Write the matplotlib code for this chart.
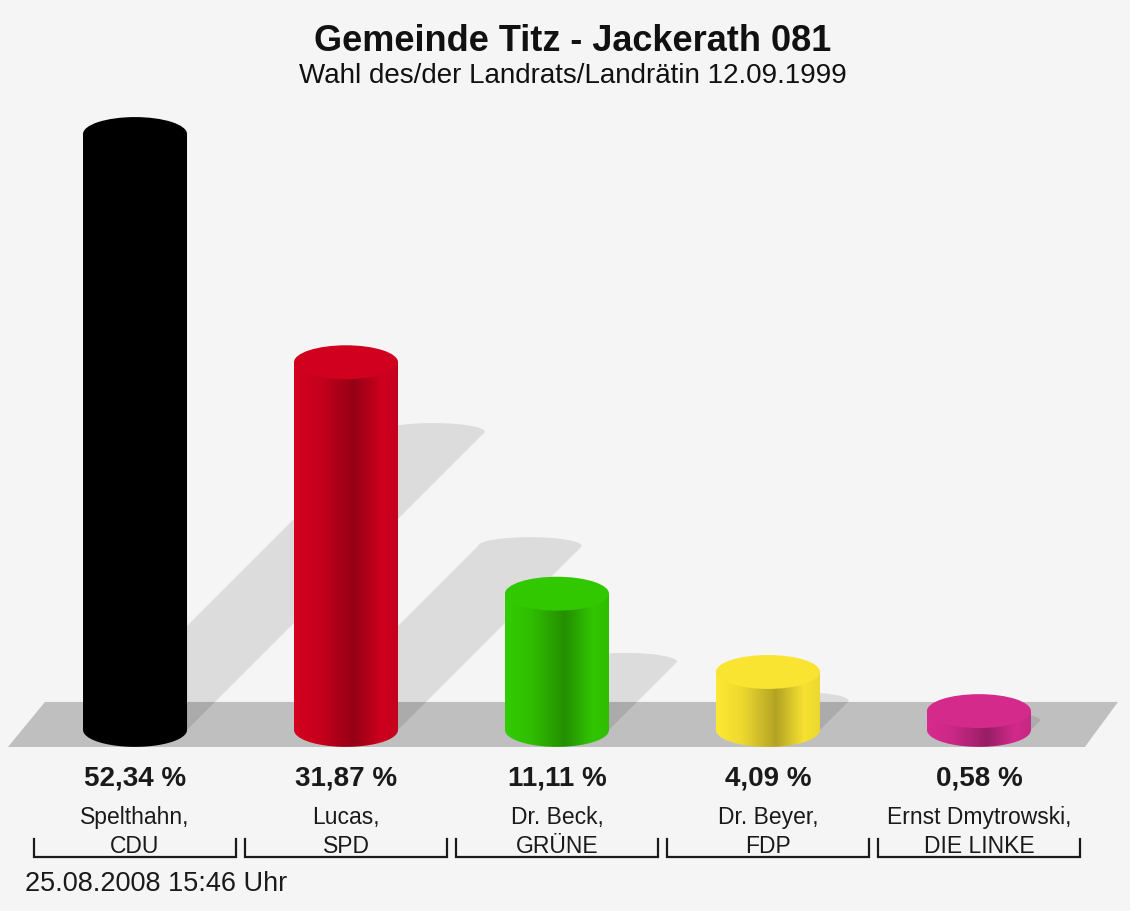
import numpy as np
import matplotlib
matplotlib.use("Agg")
import matplotlib.pyplot as plt
from matplotlib.patches import Ellipse, PathPatch, Polygon
from matplotlib.path import Path
from matplotlib.colors import to_rgb

# --- data ---
title = "Gemeinde Titz - Jackerath 081"
subtitle = "Wahl des/der Landrats/Landrätin 12.09.1999"
footer = "25.08.2008 15:46 Uhr"
candidates = ["Spelthahn,", "Lucas,", "Dr. Beck,", "Dr. Beyer,", "Ernst Dmytrowski,"]
parties = ["CDU", "SPD", "GRÜNE", "FDP", "DIE LINKE"]
shares = [52.34, 31.87, 11.11, 4.09, 0.58]
colors = ["#000000", "#d4001f", "#33cc00", "#ffe933", "#d82b8f"]

plt.rcParams['font.family'] = ['Liberation Sans', 'DejaVu Sans']

BG = "#f5f5f5"
BASE = -1.11      # cylinder foot (below the 0 line, like the original)
R = 0.2465        # cylinder half width (x units)
EY = 1.52         # ellipse half height (y units)
PX_X, PX_Y = 211.0, 11.15   # pixels per unit, used for shadow shear

fig = plt.figure(figsize=(11.3, 9.11), dpi=100, facecolor=BG)
ax = fig.add_axes([0, 0, 1, 1])
ax.set_facecolor(BG)
ax.axis('off')
XLIM = (-0.640, 4.716)
YLIM = (-17.35, 64.36)

# floor
floor = Polygon([(-0.602, -2.64), (-0.427, 1.40), (4.659, 1.40), (4.502, -2.64)],
                closed=True, facecolor="#bfbfbf", edgecolor="none", zorder=1)
ax.add_patch(floor)

# shadows
for i, v in enumerate(shares):
    h = v - BASE
    dy = 0.5 * h
    dx = 0.5 * h * PX_Y / PX_X
    ty = BASE + dy
    cx = i + dx
    verts = [(i - R, BASE), (i + R, BASE), (cx + R, ty)]
    th = np.linspace(0, np.pi, 30)
    verts += [(cx + R * np.cos(t), ty + 0.8 * np.sin(t)) for t in th]
    verts += [(i - R, BASE)]
    ax.add_patch(Polygon(verts, closed=True, facecolor="black", alpha=0.10,
                         edgecolor="none", zorder=2))

# gradient profile across the cylinder body
tt = np.linspace(0, 1, 200)
prof = np.interp(tt, [0, 0.25, 0.57, 0.84, 1.0], [1.0, 0.93, 0.70, 0.97, 0.92])

for i, (v, c) in enumerate(zip(shares, colors)):
    rgb = np.array(to_rgb(c))
    top = v
    th = np.linspace(np.pi, 2 * np.pi, 40)
    verts = [(i - R, top), (i - R, BASE)]
    verts += [(i + R * np.cos(t), BASE + EY * np.sin(t)) for t in th]
    verts += [(i + R, top), (i - R, top)]
    path = Path(verts, closed=True)
    body = PathPatch(path, facecolor="none", edgecolor="none", zorder=3)
    ax.add_patch(body)
    img = np.clip(prof[None, :, None] * rgb[None, None, :], 0, 1)
    im = ax.imshow(img, extent=(i - R, i + R, BASE - EY, top), aspect='auto',
                   interpolation='bilinear', zorder=3)
    im.set_clip_path(body)
    ax.add_patch(Ellipse((i, top), 2 * R, 2 * EY, facecolor=rgb * 0.98,
                         edgecolor="none", zorder=4))

    # labels
    ax.text(i, -5.5, f"{v:.2f} %".replace(".", ","), ha='center', va='center',
            fontsize=20, fontweight='bold', color="#1a1a1a")
    ax.text(i, -10.26, f"{candidates[i]}\n{parties[i]}", ha='center', va='center',
            fontsize=16.5, color="#1a1a1a", linespacing=1.3)
    ax.plot([i - 0.479, i - 0.479, i + 0.479, i + 0.479],
            [-10.9, -12.5, -12.5, -10.9], color="#1a1a1a", lw=1.6,
            solid_joinstyle='miter')

ax.text(-0.521, -14.92, footer, ha='left', va='center', fontsize=19.5, color="#1a1a1a")

fig.text(0.507, 0.954, title, ha='center', va='center', fontsize=26,
         fontweight='bold', color="#111111")
fig.text(0.507, 0.9166, subtitle, ha='center', va='center', fontsize=20,
         color="#111111")

ax.set_xlim(*XLIM)
ax.set_ylim(*YLIM)
fig.savefig("out.png", dpi=100, facecolor=BG)
